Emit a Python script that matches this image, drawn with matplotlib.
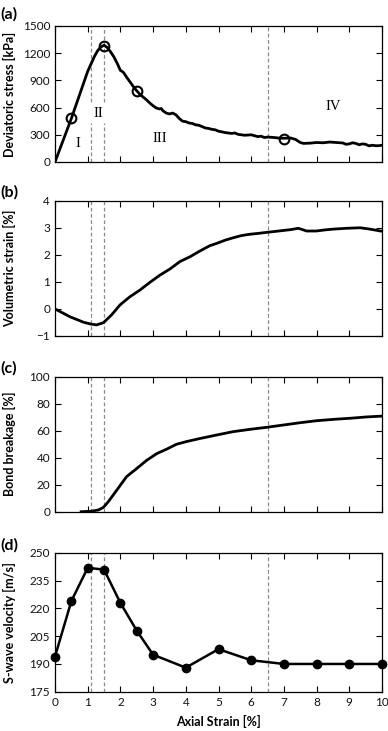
import matplotlib
matplotlib.use("Agg")
import matplotlib.pyplot as plt

# ---------------- data ----------------
strain_a = [0, 0.5, 1.0, 1.1, 1.2, 1.3, 1.4, 1.5, 1.6, 1.7, 1.8, 1.9, 1.95, 2.0, 2.05, 2.1,
            2.2, 2.3, 2.4, 2.5, 2.6, 2.7, 2.8, 2.9, 3.0, 3.1, 3.2, 3.25, 3.3, 3.4, 3.5, 3.6,
            3.7, 3.8, 3.9, 4.0, 4.1, 4.2, 4.3, 4.4, 4.5, 4.6, 4.7, 4.8, 4.9, 5.0, 5.2, 5.4,
            5.5, 5.6, 5.8, 6.0, 6.1, 6.2, 6.3, 6.4, 6.5, 6.7, 6.9, 7.0, 7.2, 7.35, 7.5, 7.6,
            7.8, 8.0, 8.2, 8.4, 8.6, 8.8, 8.9, 9.0, 9.1, 9.2, 9.3, 9.4, 9.5, 9.6, 9.7, 9.8,
            9.9, 10.0]
stress = [0, 480, 1000, 1080, 1160, 1225, 1268, 1288, 1262, 1215, 1160, 1090, 1050, 1010, 1000, 985,
          930, 880, 830, 785, 745, 715, 685, 650, 620, 595, 585, 590, 565, 540, 530, 540,
          520, 480, 450, 445, 430, 425, 410, 405, 390, 375, 370, 360, 355, 340, 325, 315,
          320, 305, 295, 300, 290, 280, 285, 270, 275, 270, 262, 262, 265, 250, 215, 205,
          208, 215, 212, 220, 215, 210, 195, 200, 212, 205, 190, 200, 195, 178, 185, 180,
          180, 185]
circle_x = [0.5, 1.5, 2.5, 7.0]
circle_y = [480, 1280, 780, 255]

strain_b = [0, 0.46, 0.87, 1.1, 1.27, 1.48, 1.73, 1.99, 2.29, 2.6, 2.9, 3.21, 3.52, 3.82,
            4.13, 4.43, 4.74, 4.94, 5.2, 5.45, 5.7, 5.96, 6.2, 6.47, 6.7, 6.98, 7.2, 7.44,
            7.6, 7.69, 7.99, 8.25, 8.51, 8.91, 9.33, 9.63, 10.0]
vol_strain = [0, -0.29, -0.49, -0.56, -0.59, -0.51, -0.22, 0.15, 0.45, 0.70, 0.98, 1.25, 1.48, 1.75,
              1.93, 2.14, 2.34, 2.42, 2.54, 2.63, 2.71, 2.76, 2.79, 2.83, 2.86, 2.90, 2.93, 2.98,
              2.92, 2.88, 2.88, 2.92, 2.95, 2.98, 3.0, 2.95, 2.87]

strain_c = [0.8, 1.1, 1.33, 1.48, 1.63, 1.89, 2.19, 2.5, 2.8, 3.11, 3.42, 3.72, 4.03, 4.43,
            4.94, 5.45, 5.96, 6.47, 6.98, 7.49, 8.0, 8.51, 9.02, 9.53, 10.0]
bond_breakage = [0, 0.3, 1.3, 3.2, 7.4, 16, 26, 32, 38, 43, 46.4, 50, 52, 54.2,
                 56.8, 59.3, 61, 62.5, 64.2, 65.9, 67.4, 68.4, 69.2, 70.2, 70.8]

strain_d = [0, 0.5, 1, 1.5, 2, 2.5, 3, 4, 5, 6, 7, 8, 9, 10]
vs = [194, 224, 242, 241, 223, 208, 195, 188, 198, 192, 190, 190, 190, 190]

stage_lines = [1.1, 1.5, 6.5]
stage_labels = ["I", "II", "III", "IV"]
stage_label_x = [0.7, 1.32, 3.2, 8.5]
stage_label_y = [200, 540, 260, 610]

panel_tags = ["(a)", "(b)", "(c)", "(d)"]
ylabels = ["Deviatoric stress [kPa]", "Volumetric strain [%]", "Bond breakage [%]",
           "S-wave velocity [m/s]"]
yticks_list = [[0, 300, 600, 900, 1200, 1500], [-1, 0, 1, 2, 3, 4],
               [0, 20, 40, 60, 80, 100], [175, 190, 205, 220, 235, 250]]
xticks = list(range(0, 11))

# ---------------- figure ----------------
plt.rcParams['font.family'] = ['Lato', 'DejaVu Sans']
fig = plt.figure(figsize=(3.88, 7.31), dpi=100)

W, H = 388.0, 731.0
left, right = 55, 382
boxes = [(26, 162), (200.7, 336), (376.7, 511.7), (553, 691.7)]
tag_y = [14, 192, 368, 545]
axes = []
for (top, bot) in boxes:
    ax = fig.add_axes([left / W, 1 - bot / H, (right - left) / W, (bot - top) / H])
    axes.append(ax)

dash_kw = dict(color='#8a8a8a', linestyle=(0, (3, 2)), linewidth=0.9, zorder=1)

for i, ax in enumerate(axes):
    ax.set_xlim(0, 10)
    yt = yticks_list[i]
    ax.set_ylim(yt[0], yt[-1])
    ax.set_yticks(yt)
    ax.set_xticks(xticks)
    ax.tick_params(direction='in', top=True, right=True, length=4, width=0.8,
                   labelsize=8.5, pad=3.5, labelcolor='#111111')
    if i < 3:
        ax.tick_params(labelbottom=False)
    for sp in ax.spines.values():
        sp.set_linewidth(0.9)
    ax.set_ylabel(ylabels[i], fontsize=9, fontweight='bold')
    ax.yaxis.set_label_coords(-0.12, 0.5)
    fig.text(0.0, 1 - tag_y[i] / H, panel_tags[i], fontsize=11.5, fontweight='bold',
             ha='left', va='center')

# panel (a)
ax = axes[0]
for xv in stage_lines[:2]:
    ax.plot([xv, xv], [0, 430], **dash_kw)
    ax.plot([xv, xv], [660, 1500], **dash_kw)
ax.plot([stage_lines[2], stage_lines[2]], [0, 1500], **dash_kw)
ax.plot(strain_a, stress, color='black', linewidth=2.0, zorder=3)
ax.plot(circle_x, circle_y, linestyle='none', marker='o', markersize=7,
        markerfacecolor='none', markeredgecolor='black', markeredgewidth=1.5, zorder=4)
for lab, lx, ly in zip(stage_labels, stage_label_x, stage_label_y):
    ax.text(lx, ly, lab, fontsize=10.5, family='Liberation Serif', ha='center', va='center')

# panel (b)
ax = axes[1]
for xv in stage_lines:
    ax.axvline(xv, **dash_kw)
ax.plot(strain_b, vol_strain, color='black', linewidth=2.0, zorder=3)

# panel (c)
ax = axes[2]
for xv in stage_lines:
    ax.axvline(xv, **dash_kw)
ax.plot(strain_c, bond_breakage, color='black', linewidth=2.0, zorder=3)

# panel (d)
ax = axes[3]
for xv in stage_lines:
    ax.axvline(xv, **dash_kw)
ax.plot(strain_d, vs, color='black', linewidth=1.8, marker='o', markersize=6, zorder=3,
        clip_on=False)
ax.set_xlabel("Axial Strain [%]", fontsize=9, fontweight='bold', labelpad=5)

fig.savefig("out.png", dpi=100)
